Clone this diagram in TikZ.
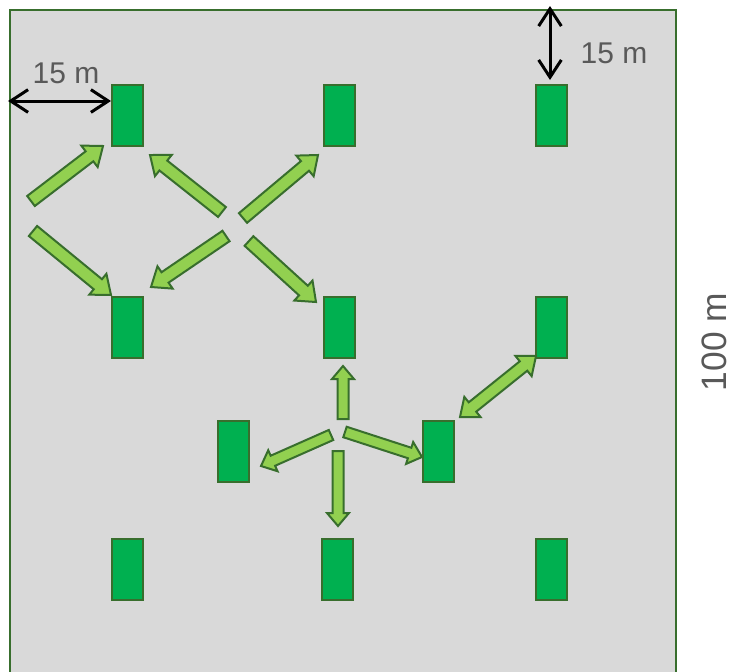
\documentclass[tikz,border=0pt]{standalone}
\usepackage{fontspec}
\setmainfont{Liberation Sans}
\usetikzlibrary{calc,arrows.meta}
\definecolor{bggray}{HTML}{D9D9D9}
\definecolor{edgegreen}{RGB}{56,110,45}
\definecolor{plantgreen}{HTML}{00B050}
\definecolor{arrowgreen}{HTML}{92D050}
\definecolor{labelgray}{HTML}{595959}
\tikzset{
  plant/.style={draw=edgegreen,fill=plantgreen,line width=1.5pt,minimum width=31*0.75pt,minimum height=61*0.75pt,inner sep=0pt},
  blockarrow/.style={draw=edgegreen,fill=arrowgreen,line width=1.5pt,line join=miter},
  dimarrow/.style={line width=2.25pt,{Straight Barb[length=13pt,width=17pt]}-{Straight Barb[length=13pt,width=17pt]}},
  dimlabel/.style={text=labelgray,font=\fontsize{22.5}{24}\selectfont,inner sep=0pt}
}
% single-headed block arrow: from, to, half shaft, half head, head length (px)
\newcommand\blockarr[5]{%
  \coordinate (ba1) at (#1); \coordinate (ba2) at (#2);
  \coordinate (bab) at ($(ba2)!#5*0.75pt!(ba1)$);
  \draw[blockarrow] ($(ba1)!#3*0.75pt!90:(ba2)$) -- ($(bab)!#3*0.75pt!90:(ba2)$) -- ($(bab)!#4*0.75pt!90:(ba2)$) -- (ba2)
    -- ($(bab)!#4*0.75pt!-90:(ba2)$) -- ($(bab)!#3*0.75pt!-90:(ba2)$) -- ($(ba1)!#3*0.75pt!-90:(ba2)$) -- cycle;
}
% double-headed block arrow
\newcommand\dblarr[5]{%
  \coordinate (ba1) at (#1); \coordinate (ba2) at (#2);
  \coordinate (bab) at ($(ba2)!#5*0.75pt!(ba1)$);
  \coordinate (bac) at ($(ba1)!#5*0.75pt!(ba2)$);
  \draw[blockarrow] (ba1) -- ($(bac)!#4*0.75pt!90:(ba2)$) -- ($(bac)!#3*0.75pt!90:(ba2)$) -- ($(bab)!#3*0.75pt!90:(ba2)$) -- ($(bab)!#4*0.75pt!90:(ba2)$) -- (ba2)
    -- ($(bab)!#4*0.75pt!-90:(ba2)$) -- ($(bab)!#3*0.75pt!-90:(ba2)$) -- ($(bac)!#3*0.75pt!-90:(ba2)$) -- ($(bac)!#4*0.75pt!-90:(ba2)$) -- cycle;
}
\begin{document}
\begin{tikzpicture}[x=0.75pt,y=-0.75pt]
\useasboundingbox (0,0) rectangle (733,672);
\begin{scope}
\clip (0,0) rectangle (733,672);
\draw[draw=edgegreen,fill=bggray,line width=1.5pt] (10,10) rectangle (676,690);
\end{scope}
% plants
\node[plant] (p11) at (127.5,115.5) {};
\node[plant] (p12) at (339.5,115.5) {};
\node[plant] (p13) at (551.5,115.5) {};
\node[plant] (p21) at (127.5,327.5) {};
\node[plant] (p22) at (339.5,327.5) {};
\node[plant] (p23) at (551.5,327.5) {};
\node[plant] (p31) at (233.5,451.5) {};
\node[plant] (p32) at (438.5,451.5) {};
\node[plant] (p41) at (127.5,569.5) {};
\node[plant] (p42) at (337.5,569.5) {};
\node[plant] (p43) at (551.5,569.5) {};
% free ends
\coordinate (t1) at (31,201);
\coordinate (e1) at (103,146);
\coordinate (t2) at (222,212);
\coordinate (e2) at (150,155);
\coordinate (t3) at (33,231);
\coordinate (e3) at (111,295);
\coordinate (t4) at (226,236);
\coordinate (e4) at (151,287);
\coordinate (t5) at (243,218);
\coordinate (e5) at (318,155);
\coordinate (t6) at (249,241);
\coordinate (e6) at (316,302);
\coordinate (t7) at (343,419);
\coordinate (e7) at (343,366);
\coordinate (t8) at (331,435);
\coordinate (e8) at (261,466);
\coordinate (t9) at (345,432);
\coordinate (e9) at (422,457);
\coordinate (t10) at (338,451);
\coordinate (e10) at (338,526);
\coordinate (d1) at (460,417);
\coordinate (d2) at (536,356);
% block arrows
\blockarr{t1}{e1}{6.3}{13.5}{17}
\blockarr{t2}{e2}{6.3}{13.5}{17}
\blockarr{t3}{e3}{6.5}{13.5}{17}
\blockarr{t4}{e4}{6.3}{13.5}{17}
\blockarr{t5}{e5}{6.3}{13.5}{17}
\blockarr{t6}{e6}{6.5}{13.5}{17}
\blockarr{t7}{e7}{5.5}{11}{13}
\blockarr{t8}{e8}{5.5}{11.5}{13}
\blockarr{t9}{e9}{5.5}{11.5}{13}
\blockarr{t10}{e10}{5.5}{11}{13}
\dblarr{d1}{d2}{6}{13}{16}
% dimensions
\coordinate (hl) at (8,101);
\draw[dimarrow] (hl) -- (p11.west |- hl);
\coordinate (vt) at (550,6);
\coordinate (vb) at (550,80);
\draw[dimarrow] (vt) -- (vb);
\node[dimlabel] (l1) at (66,73) {15 m};
\node[dimlabel] (l2) at (614,53) {15 m};
\node[dimlabel,font=\fontsize{26.5}{28}\selectfont,rotate=90] (l3) at (714,342) {100 m};
\end{tikzpicture}
\end{document}
